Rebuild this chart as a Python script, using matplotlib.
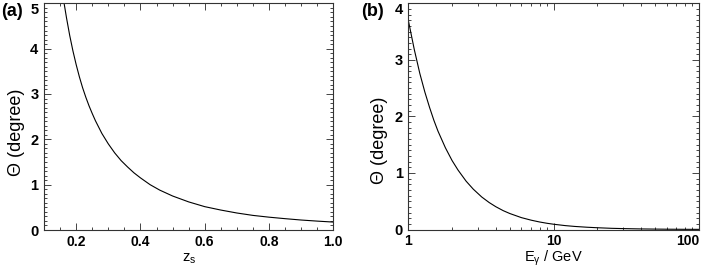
import matplotlib
matplotlib.use("Agg")
import matplotlib.pyplot as plt
from matplotlib.ticker import MultipleLocator, LogLocator, FixedLocator, NullFormatter

plt.rcParams['font.family'] = ['Liberation Sans', 'DejaVu Sans']
plt.rcParams['mathtext.fontset'] = 'custom'
plt.rcParams['mathtext.rm'] = 'Liberation Sans'
plt.rcParams['mathtext.it'] = 'Liberation Sans'

# Panel (a): theta vs z_s
zs = [0.163, 0.17, 0.18, 0.19, 0.20, 0.21, 0.22, 0.23, 0.24, 0.25, 0.26, 0.28,
      0.30, 0.32, 0.34, 0.36, 0.38, 0.40, 0.43, 0.46, 0.50, 0.55, 0.60, 0.65,
      0.70, 0.75, 0.80, 0.85, 0.90, 0.95, 1.00]
theta_a = [4.98, 4.68, 4.29, 3.95, 3.65, 3.38, 3.14, 2.93, 2.74, 2.57, 2.41, 2.13,
           1.90, 1.70, 1.53, 1.39, 1.26, 1.15, 1.00, 0.88, 0.75, 0.62, 0.515, 0.44,
           0.375, 0.322, 0.283, 0.25, 0.22, 0.196, 0.175]

# Panel (b): theta vs E_gamma
egam = [1.0, 1.1, 1.2, 1.3, 1.4, 1.5, 1.6, 1.8, 2.0, 2.2, 2.5, 2.8, 3.2, 3.6, 4.0,
        4.5, 5.0, 6.0, 7.0, 8.0, 9.0, 10, 12, 14, 17, 20, 25, 30, 40, 50, 60, 80, 100]
theta_b = [3.70, 3.18, 2.76, 2.43, 2.16, 1.93, 1.74, 1.445, 1.22, 1.05, 0.854, 0.713,
           0.575, 0.477, 0.403, 0.333, 0.282, 0.210, 0.165, 0.133, 0.110, 0.093,
           0.069, 0.054, 0.040, 0.031, 0.021, 0.016, 0.010, 0.0071, 0.0052, 0.0033, 0.0023]

W, H = 708, 269
fig = plt.figure(figsize=(W / 100, H / 100), dpi=100)

def px_axes(l, r, t, b):
    return fig.add_axes([l / W, 1 - b / H, (r - l) / W, (b - t) / H])

box1 = (44, 333.3, 3.3, 230)
box2 = (408.3, 699, 3.3, 229.5)
ax1 = px_axes(*box1)
ax2 = px_axes(*box2)

lw = 0.8
for ax in (ax1, ax2):
    for s in ax.spines.values():
        s.set_linewidth(0.8)
        s.set_color('#333333')
    ax.tick_params(which='both', direction='in', top=True, right=True,
                   width=0.7, color='#444444')
    ax.tick_params(which='major', length=5, labelsize=10.5, pad=4)
    ax.tick_params(which='minor', length=2.5)
    ax.tick_params(axis='x', which='major', pad=3.5, labelsize=10)

ax1.plot(zs, theta_a, color='black', lw=lw)
ax1.set_xlim(0.1, 1.0)
ax1.set_ylim(0, 5)
ax1.xaxis.set_major_locator(FixedLocator([0.2, 0.4, 0.6, 0.8, 1.0]))
ax1.xaxis.set_minor_locator(MultipleLocator(0.05))
ax1.set_xticklabels(['0.2', '0.4', '0.6', '0.8', '1.0'], fontweight='bold')
ax1.set_yticks(range(6))
ax1.set_yticklabels([str(i) for i in range(6)], fontweight='bold')
ax1.yaxis.set_minor_locator(MultipleLocator(0.1))
ax1.set_xlabel(r'z$_\mathregular{s}$', fontsize=10.5)
ax1.set_ylabel('\u0398 (degree)', fontsize=13)

ax2.plot(egam, theta_b, color='black', lw=lw)
ax2.set_xscale('log')
ax2.set_xlim(1, 100)
ax2.set_ylim(0, 4)
ax2.xaxis.set_major_locator(FixedLocator([1, 10, 100]))
ax2.xaxis.set_minor_locator(LogLocator(base=10, subs=range(2, 10)))
ax2.xaxis.set_minor_formatter(NullFormatter())
ax2.set_xticklabels(['1', '10', '100'], fontweight='bold')
ax2.get_xticklabels()[-1].set_ha('right')
ax2.set_yticks(range(5))
ax2.set_yticklabels([str(i) for i in range(5)], fontweight='bold')
ax2.yaxis.set_minor_locator(MultipleLocator(0.1))
ax2.set_xlabel(r'E$_\mathregular{\gamma}$ / GeV', fontsize=10.5)
ax2.set_ylabel('\u0398 (degree)', fontsize=13)

# top y tick labels pushed inside the figure, as in the reference
ax1.get_yticklabels()[-1].set_va('top')
ax2.get_yticklabels()[-1].set_va('top')

# label positions (pixel-matched)
for ax, (l, r, t, b), ylx, yly in ((ax1, box1, 17, 132), (ax2, box2, 379, 140)):
    ax.xaxis.label.set_va('baseline')
    ax.xaxis.set_label_coords(0.5, -(262 - b) / (b - t))
    ax.yaxis.label.set_va('center')
    ax.yaxis.set_label_coords((ylx - l) / (r - l), (b - yly) / (b - t))

fig.text(1 / W, 1 - 11 / H, '(a)', fontsize=13, fontweight='bold', va='center', ha='left')
fig.text(361 / W, 1 - 11 / H, '(b)', fontsize=13, fontweight='bold', va='center', ha='left')

fig.savefig('out.png', dpi=100)
